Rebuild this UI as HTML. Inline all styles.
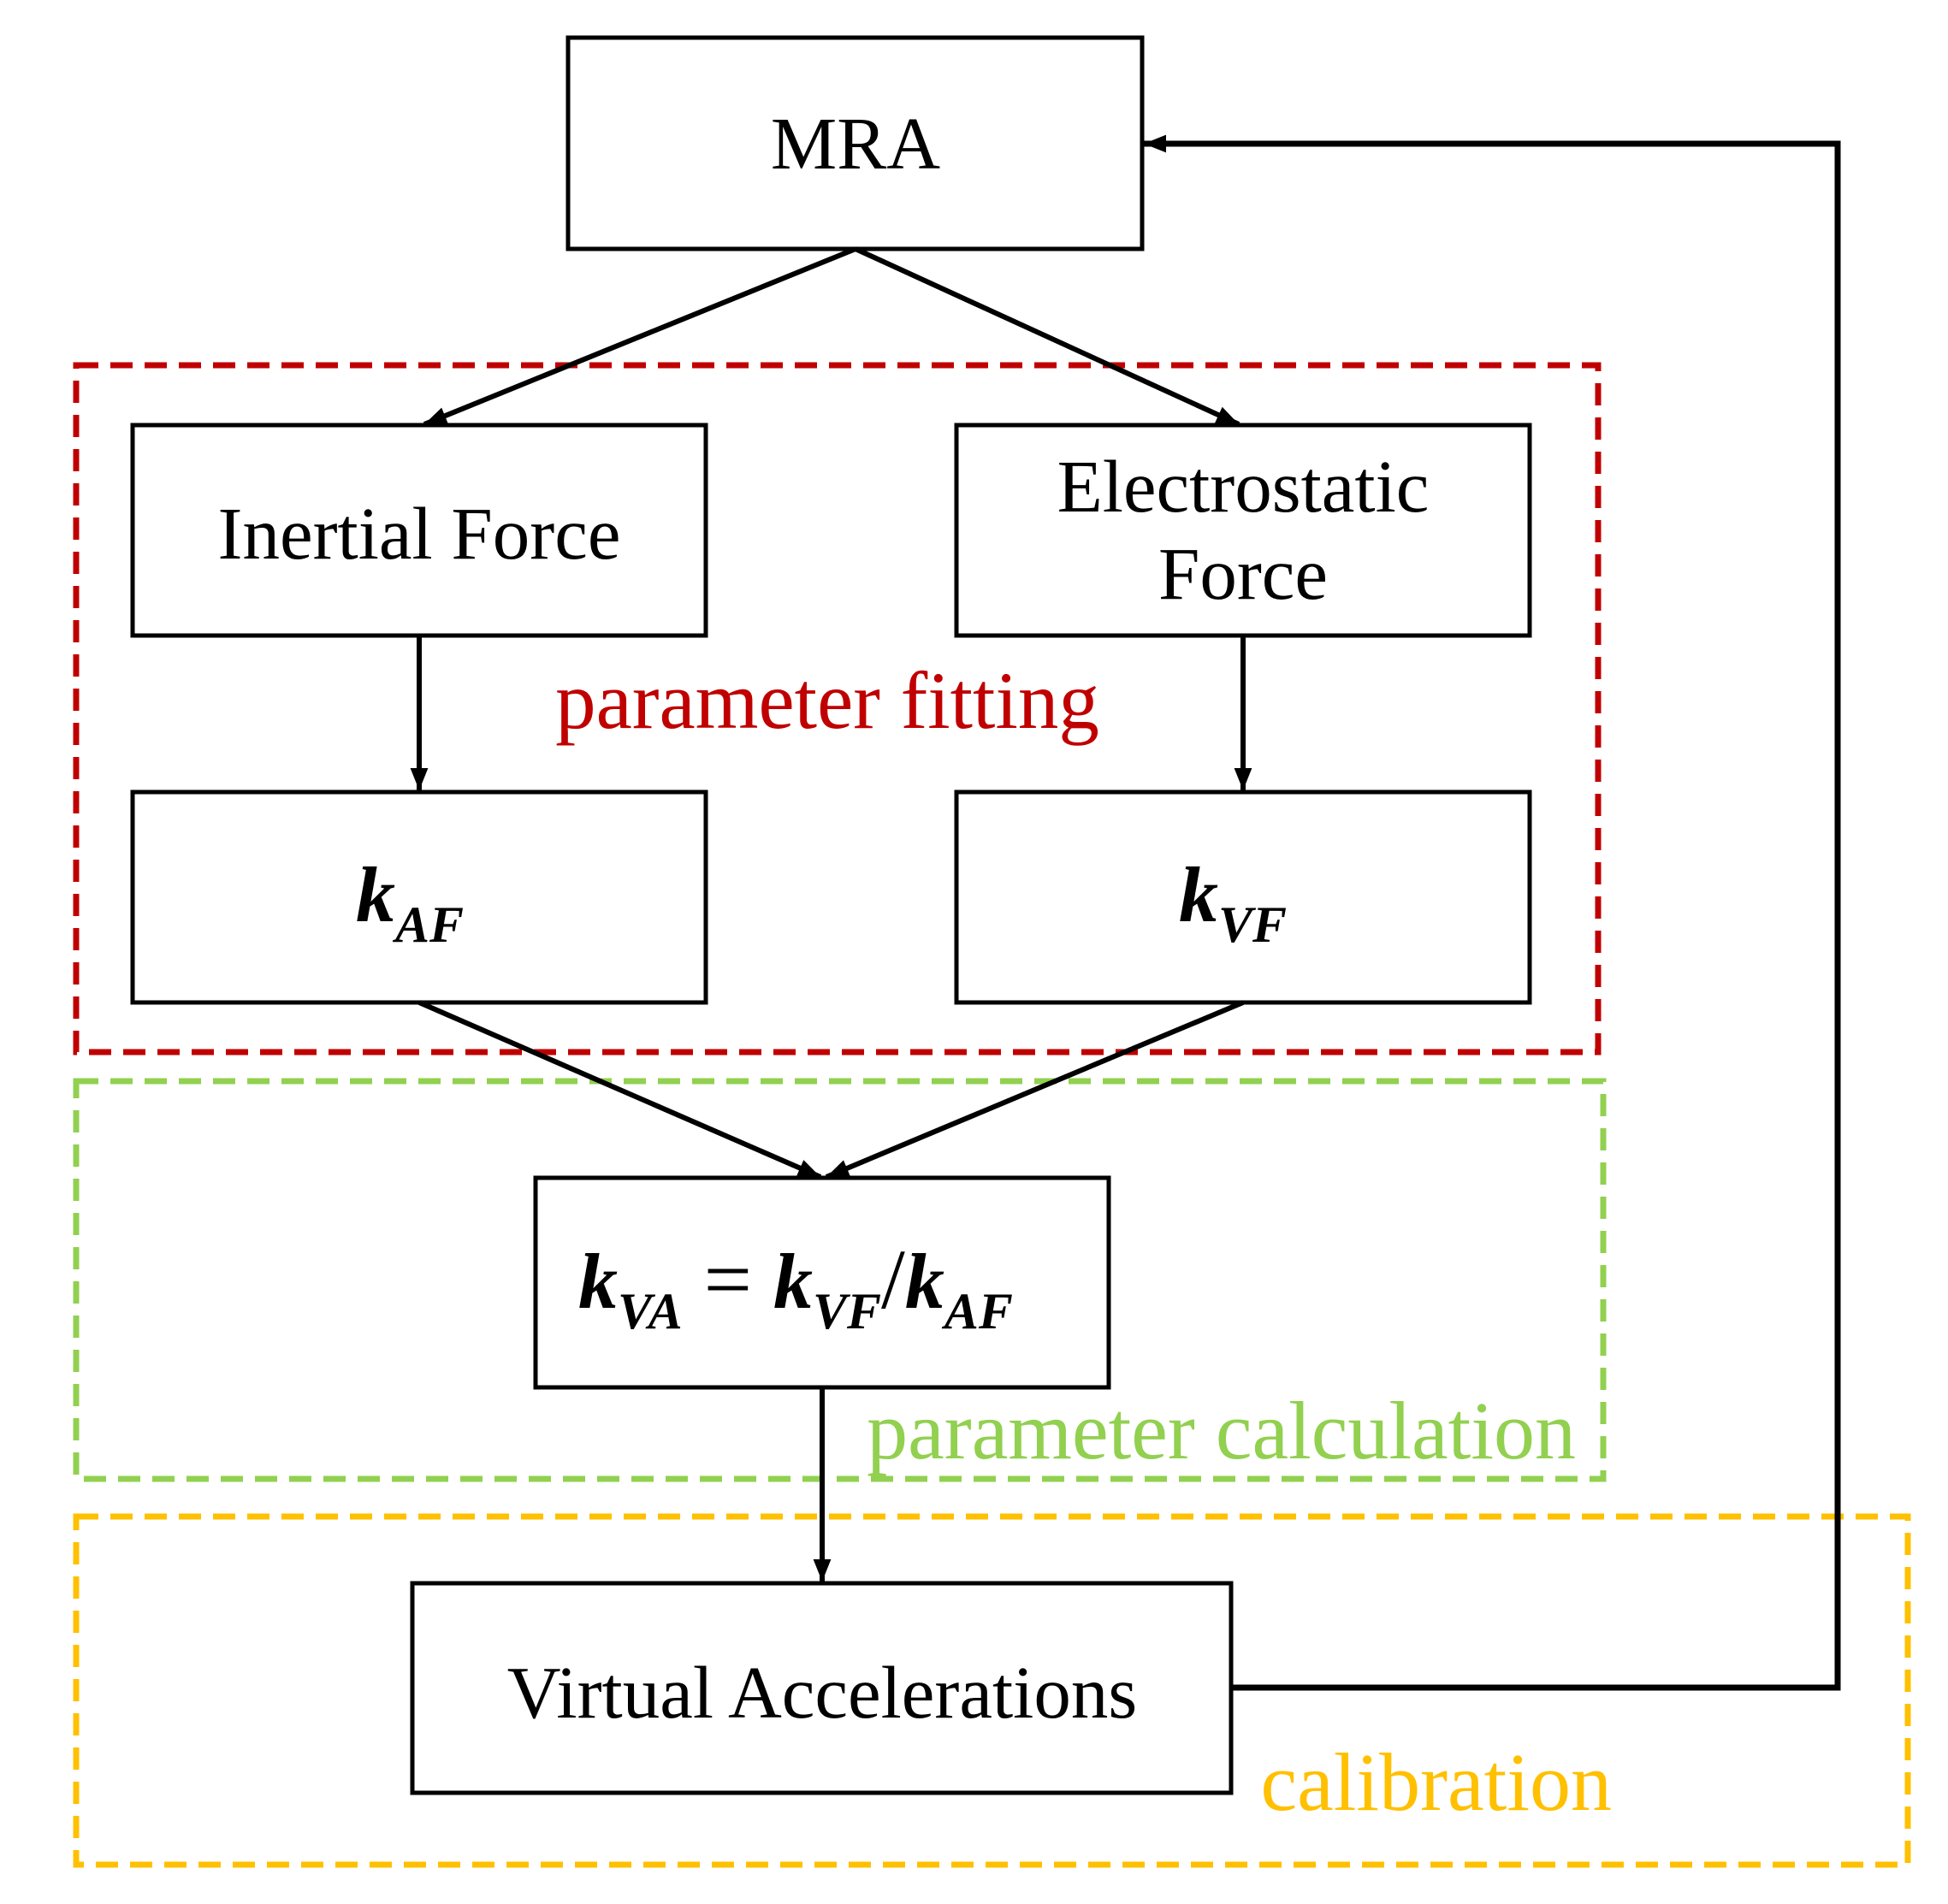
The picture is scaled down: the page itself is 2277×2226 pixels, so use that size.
<!DOCTYPE html>
<html><head><meta charset="utf-8"><style>
html,body{margin:0;padding:0;background:#fff}
svg{display:block}
text{font-family:"Liberation Serif",serif}
</style></head><body>
<svg width="2277" height="2226" viewBox="0 0 2277 2226" xmlns="http://www.w3.org/2000/svg">
<defs>
<marker id="b" viewBox="0 0 10 10" refX="10" refY="5" markerWidth="30" markerHeight="26" markerUnits="userSpaceOnUse" orient="auto">
<path d="M0,1 L10,5 L0,9 z" fill="#000"/></marker>
</defs>
<g fill="none" stroke-width="7" stroke-dasharray="26,14">
<rect x="89" y="427" width="1779" height="803" stroke="#C00000"/>
<rect x="89" y="1264" width="1785" height="465" stroke="#92D050"/>
<rect x="89" y="1773" width="2141" height="407" stroke="#FFC000"/>
</g>
<g fill="#fff" stroke="#000" stroke-width="5">
<rect x="664" y="44" width="671" height="247"/>
<rect x="155" y="497" width="670" height="246"/>
<rect x="1118" y="497" width="670" height="246"/>
<rect x="155" y="926" width="670" height="246"/>
<rect x="1118" y="926" width="670" height="246"/>
<rect x="626" y="1377" width="670" height="245"/>
<rect x="482" y="1851" width="957" height="245"/>
</g>
<g stroke="#000" stroke-width="6" fill="none" marker-end="url(#b)">
<line x1="1000" y1="291" x2="496" y2="496"/>
<line x1="1000" y1="291" x2="1448" y2="496"/>
<line x1="490" y1="743" x2="490" y2="924"/>
<line x1="1453" y1="743" x2="1453" y2="924"/>
<line x1="490" y1="1172" x2="959" y2="1376"/>
<line x1="1453" y1="1172" x2="966" y2="1376"/>
<line x1="961" y1="1622" x2="961" y2="1849"/>
<polyline points="1439,1973 2148,1973 2148,168 1337,168" stroke-width="7"/>
</g>
<g fill="#000" font-size="87" text-anchor="middle">
<text x="1000" y="197">MRA</text>
<text x="490" y="653">Inertial Force</text>
<text x="1453" y="598">Electrostatic</text>
<text x="1453" y="700">Force</text>
<text x="961" y="2008">Virtual Accelerations</text>
</g>
<g fill="#000" font-style="italic" font-weight="bold">
<text x="416" y="1077" font-size="92">k<tspan font-size="60" dy="24">AF</tspan></text>
<text x="1378" y="1077" font-size="92">k<tspan font-size="60" dy="24">VF</tspan></text>
<text x="676" y="1529" font-size="92">k<tspan font-size="60" dy="24">VA</tspan><tspan dy="-24" font-style="normal" font-weight="normal" font-size="100"> = </tspan>k<tspan font-size="60" dy="24">VF</tspan><tspan dy="-24" font-style="normal" font-weight="normal" font-size="100">/</tspan>k<tspan font-size="60" dy="24">AF</tspan></text>
</g>
<text x="967" y="851" font-size="95" fill="#C00000" text-anchor="middle">parameter fitting</text>
<text x="1842" y="1705" font-size="96" fill="#92D050" text-anchor="end">parameter calculation</text>
<text x="1884" y="2116" font-size="96" fill="#FFC000" text-anchor="end">calibration</text>
</svg>
</body></html>
